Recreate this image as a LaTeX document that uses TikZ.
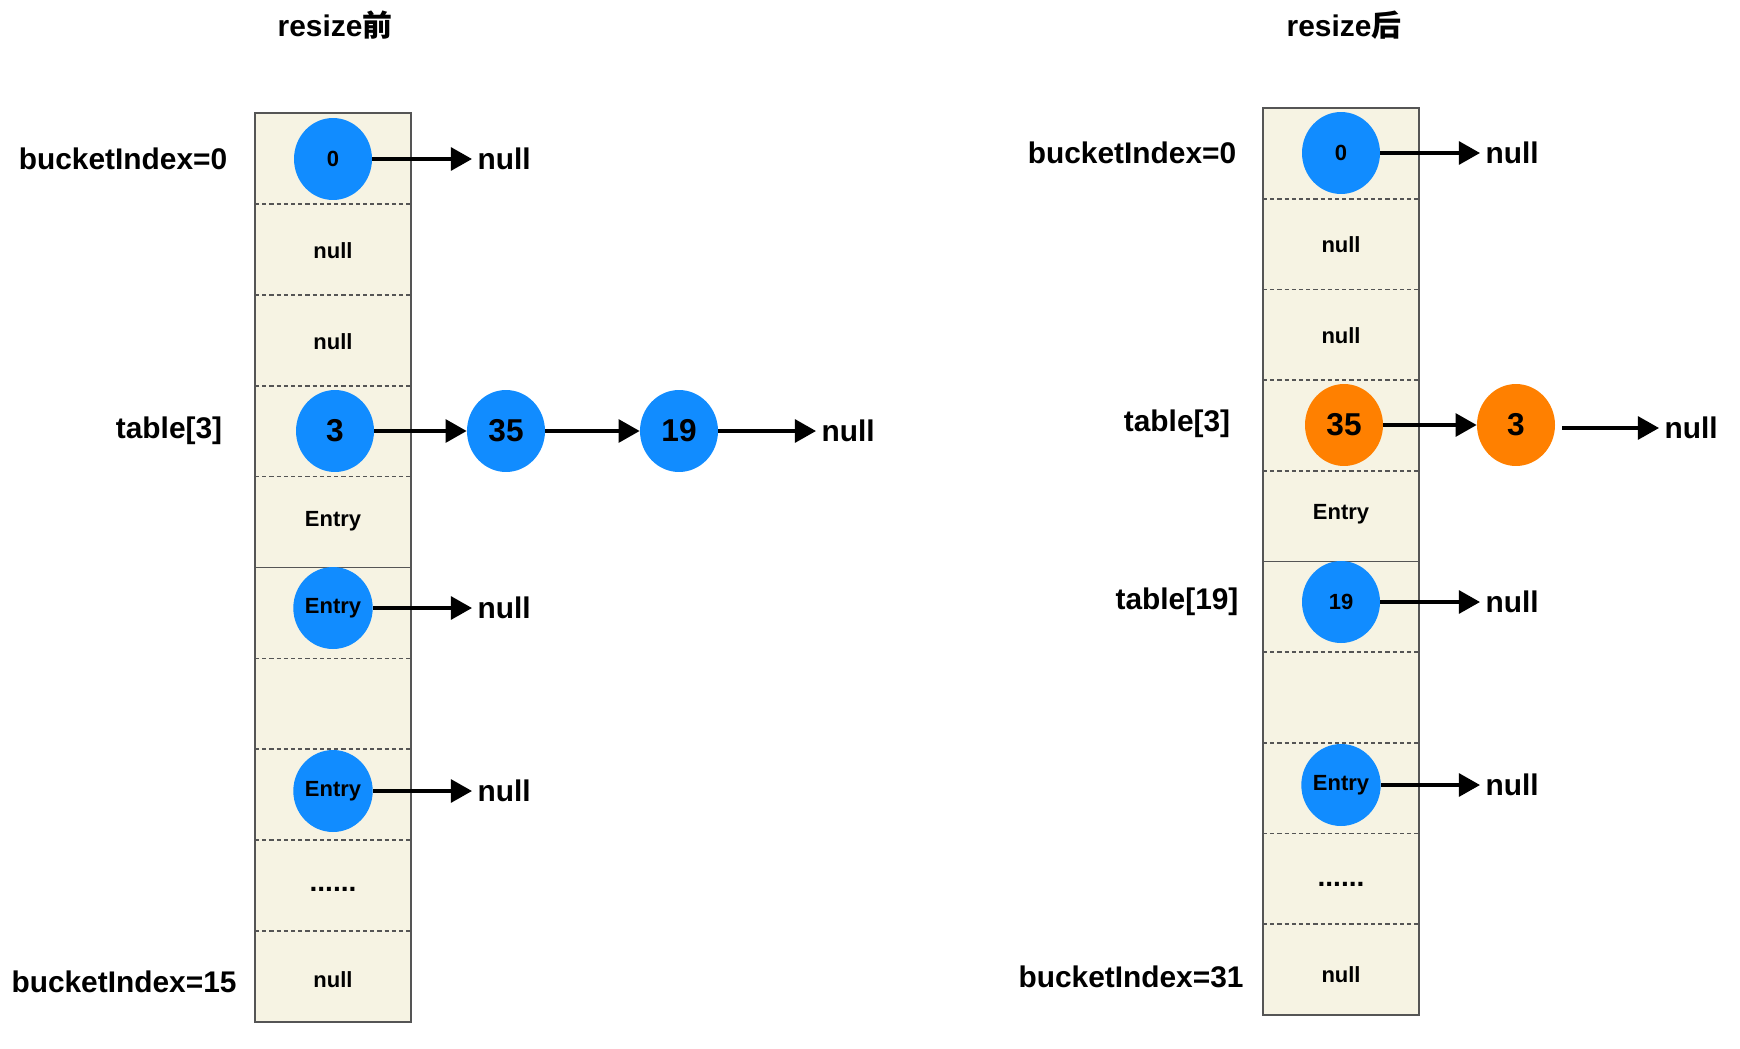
\documentclass[tikz,border=0pt]{standalone}
\usepackage{fontspec}
\setmainfont{Liberation Sans}
\newfontfamily\cjk{Noto Sans CJK SC}
\usetikzlibrary{arrows.meta,shapes.geometric}
\definecolor{entryblue}{RGB}{17,140,255}
\definecolor{entryorange}{RGB}{255,128,0}
\definecolor{cellfill}{RGB}{246,243,227}
\definecolor{cellline}{RGB}{85,85,85}
\begin{document}
\begin{tikzpicture}[x=0.02cm,y=-0.02cm,
  big/.style={font=\bfseries\fontsize{17}{20}\selectfont},
  small/.style={font=\bfseries\fontsize{12.5}{15}\selectfont},
  dots/.style={font=\bfseries\fontsize{16}{18}\selectfont},
  entry/.style={ellipse,fill=entryblue,minimum width=1.56cm,
    minimum height=1.64cm,inner sep=0pt,small},
  bignum/.style={font=\bfseries\fontsize{18}{21}\selectfont},
  moved/.style={entry,fill=entryorange,bignum},
  link/.style={line width=2pt,-{Triangle[length=12pt,width=13pt]}},
  nil/.style={big,anchor=west,inner sep=3pt},
  divider/.style={cellline,line width=1pt,dash pattern=on 2.4pt off 1.7pt}]
  \useasboundingbox (0,0) rectangle (1740,1048);

  % resize before
  \fill[cellfill] (255,113) rectangle (411,1022);
  \foreach \i in {1,2,3,4,6,7,8,9}
    \draw[divider] (255,{113+90.9*\i}) -- (411,{113+90.9*\i});
  \draw[cellline,line width=1.1pt] (255,{113+90.9*5}) -- (411,{113+90.9*5});
  \draw[cellline,line width=1.1pt] (255,113) rectangle (411,1022);

  \node[big] (tbefore) at (335,25) {resize{\cjk 前}};
  \node[big] (lb0) at (123,159) {bucketIndex=0};
  \node[big] (lb3) at (169,431) {table[3]};
  \node[big] (lb15) at (124,982) {bucketIndex=15};

  \node[small] (b1) at (333,251) {null};
  \node[small] (b2) at (333,342) {null};
  \node[small] (b4) at (333,521) {Entry};
  \node[dots] (b8) at (333,889) {......};
  \node[small] (b9) at (333,980) {null};

  \node[entry] (b0) at (333,159) {0};
  \node[entry,bignum] (b3) at (335,431) {3};
  \node[entry,bignum] (b35) at (506,431) {35};
  \node[entry,bignum] (b19) at (679,431) {19};
  \node[entry] (b5) at (333,608) {Entry};
  \node[entry] (b7) at (333,791) {Entry};

  \node[nil] (b0n) at (472,159) {null};
  \node[nil] (b19n) at (816,431) {null};
  \node[nil] (b5n) at (472,608) {null};
  \node[nil] (b7n) at (472,791) {null};

  \draw[link] (b0) -- (b0n);
  \draw[link] (b3) -- (b35);
  \draw[link] (b35) -- (b19);
  \draw[link] (b19) -- (b19n);
  \draw[link] (b5) -- (b5n);
  \draw[link] (b7) -- (b7n);

  % resize after
  \fill[cellfill] (1263,108) rectangle (1419,1015);
  \foreach \i in {1,2,3,4,6,7,8,9}
    \draw[divider] (1263,{108+90.7*\i}) -- (1419,{108+90.7*\i});
  \draw[cellline,line width=1.1pt] (1263,{108+90.7*5}) -- (1419,{108+90.7*5});
  \draw[cellline,line width=1.1pt] (1263,108) rectangle (1419,1015);

  \node[big] (tafter) at (1344,25) {resize{\cjk 后}};
  \node[big] (la0) at (1132,153) {bucketIndex=0};
  \node[big] (la3) at (1177,424) {table[3]};
  \node[big] (la19) at (1177,602) {table[19]};
  \node[big] (la31) at (1131,977) {bucketIndex=31};

  \node[small] (a1) at (1341,245) {null};
  \node[small] (a2) at (1341,336) {null};
  \node[small] (a4) at (1341,514) {Entry};
  \node[dots] (a8) at (1341,884) {......};
  \node[small] (a9) at (1341,975) {null};

  \node[entry] (a0) at (1341,153) {0};
  \node[moved] (a35) at (1344,425) {35};
  \node[moved] (a3) at (1516,425) {3};
  \node[entry] (a5) at (1341,602) {19};
  \node[entry] (a7) at (1341,785) {Entry};

  \node[nil] (a0n) at (1480,153) {null};
  \node[nil] (a3n) at (1659,428) {null};
  \node[nil] (a5n) at (1480,602) {null};
  \node[nil] (a7n) at (1480,785) {null};

  \draw[link] (a0) -- (a0n);
  \draw[link] (a35) -- (a3);
  \draw[link,shorten <=4pt] (a3.east |- a3n) -- (a3n);
  \draw[link] (a5) -- (a5n);
  \draw[link] (a7) -- (a7n);
\end{tikzpicture}
\end{document}
